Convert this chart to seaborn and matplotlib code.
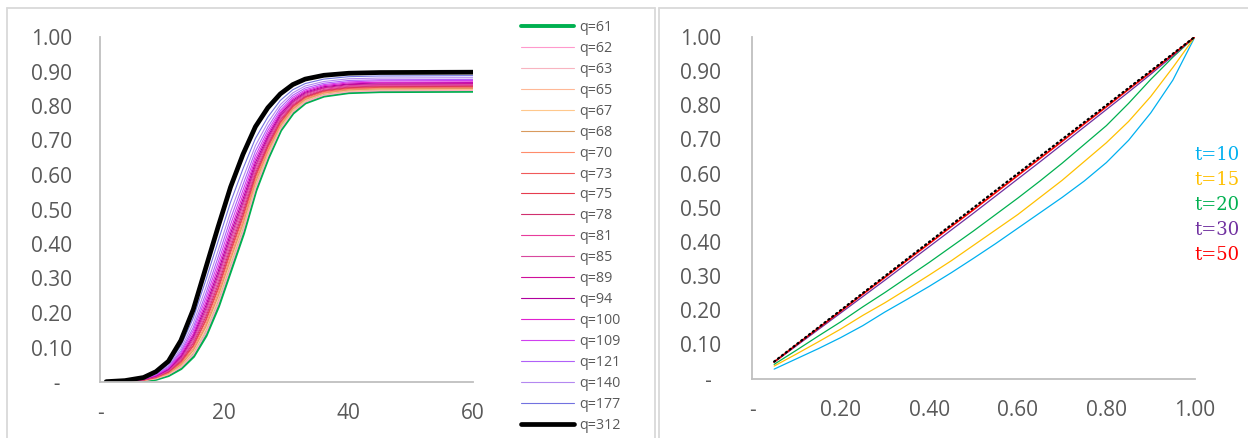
import seaborn as sns
import matplotlib.pyplot as plt
from matplotlib.lines import Line2D

# left chart: cumulative curves for several q
t_vals = [1, 4, 7, 9, 11, 13, 15, 17, 19, 21, 23, 25, 27, 29, 31, 33, 36, 40, 45, 60]

q61 = [.000, .001, .004, .009, .020, .040, .075, .135, .220, .325, .430, .555, .650, .730, .780, .810, .830, .840, .843, .844]
q62 = [.000, .001, .004, .009, .021, .042, .078, .139, .225, .330, .435, .559, .653, .732, .782, .811, .831, .841, .844, .845]
q63 = [.000, .001, .004, .010, .022, .043, .080, .143, .229, .334, .439, .562, .656, .734, .783, .813, .832, .842, .845, .846]
q65 = [.000, .001, .005, .011, .023, .046, .085, .150, .238, .343, .448, .569, .661, .738, .786, .815, .835, .844, .847, .848]
q67 = [.000, .001, .005, .011, .024, .049, .090, .157, .246, .352, .456, .576, .666, .742, .789, .818, .837, .846, .849, .850]
q68 = [.000, .001, .005, .012, .025, .050, .092, .160, .249, .356, .459, .579, .669, .743, .791, .819, .838, .847, .850, .851]
q70 = [.000, .002, .005, .012, .026, .053, .097, .166, .257, .363, .467, .585, .673, .747, .793, .821, .839, .849, .852, .853]
q73 = [.000, .002, .006, .013, .028, .056, .103, .175, .267, .374, .477, .593, .680, .751, .797, .824, .842, .851, .854, .855]
q75 = [.000, .002, .006, .014, .029, .059, .106, .180, .273, .381, .483, .598, .684, .754, .799, .826, .844, .853, .856, .857]
q78 = [.000, .002, .006, .015, .031, .062, .112, .188, .282, .390, .492, .605, .689, .759, .802, .828, .846, .855, .858, .859]
q81 = [.000, .002, .007, .015, .032, .065, .116, .195, .291, .399, .501, .612, .695, .762, .805, .831, .848, .857, .860, .861]
q85 = [.000, .002, .007, .016, .034, .068, .122, .203, .301, .409, .511, .620, .701, .767, .809, .834, .851, .859, .862, .863]
q89 = [.000, .002, .008, .017, .036, .071, .128, .211, .310, .419, .520, .627, .707, .771, .812, .837, .853, .862, .864, .865]
q94 = [.000, .002, .008, .018, .037, .075, .134, .220, .320, .430, .530, .636, .713, .776, .816, .840, .856, .864, .867, .868]
q100 = [.000, .003, .008, .019, .039, .079, .140, .230, .332, .441, .542, .645, .720, .781, .820, .843, .859, .867, .869, .870]
q109 = [.001, .003, .009, .021, .042, .084, .149, .242, .346, .456, .556, .656, .729, .787, .825, .847, .862, .870, .873, .874]
q121 = [.001, .003, .010, .022, .045, .089, .158, .255, .362, .473, .572, .669, .739, .795, .831, .852, .866, .874, .876, .877]
q140 = [.001, .003, .010, .024, .048, .096, .170, .272, .381, .493, .591, .685, .752, .804, .838, .858, .871, .879, .881, .882]
q177 = [.001, .003, .011, .026, .053, .105, .185, .294, .408, .521, .618, .706, .768, .816, .847, .865, .878, .885, .887, .888]
q312 = [.001, .004, .013, .030, .060, .120, .210, .330, .450, .565, .660, .740, .795, .835, .862, .878, .889, .895, .897, .898]

q_labels = ["q=61", "q=62", "q=63", "q=65", "q=67", "q=68", "q=70", "q=73", "q=75", "q=78",
            "q=81", "q=85", "q=89", "q=94", "q=100", "q=109", "q=121", "q=140", "q=177", "q=312"]
q_series = [q61, q62, q63, q65, q67, q68, q70, q73, q75, q78,
            q81, q85, q89, q94, q100, q109, q121, q140, q177, q312]
q_colors = ["#00B050", "#FF99CC", "#F8B4C0", "#FFB896", "#FFC88C", "#D99A5E", "#FF8C6B", "#F05A5A",
            "#E63C4E", "#D0306E", "#E83C9C", "#D8489E", "#D0109A", "#B0009E", "#E020D0", "#D040F0",
            "#B060F8", "#B488F0", "#7272E0", "#000000"]

# right chart: share curves for several t
x_share = [.05, .10, .15, .20, .25, .30, .35, .40, .45, .50, .55, .60, .65, .70, .75, .80, .85, .90, .95, 1.00]
diag = [.05, .10, .15, .20, .25, .30, .35, .40, .45, .50, .55, .60, .65, .70, .75, .80, .85, .90, .95, 1.00]
t10 = [.028, .058, .088, .120, .155, .195, .232, .270, .310, .352, .395, .440, .485, .530, .578, .632, .697, .777, .873, 1.0]
t15 = [.037, .072, .108, .145, .185, .222, .262, .303, .345, .390, .435, .480, .530, .580, .635, .690, .752, .825, .910, 1.0]
t20 = [.042, .083, .125, .166, .210, .252, .296, .340, .386, .432, .480, .528, .578, .630, .685, .740, .805, .875, .940, 1.0]
t30 = [.048, .096, .144, .192, .240, .288, .337, .386, .435, .484, .534, .584, .634, .685, .736, .787, .838, .890, .944, 1.0]
t50 = [.049, .099, .148, .197, .247, .296, .346, .395, .445, .494, .544, .594, .644, .694, .745, .795, .846, .896, .948, 1.0]
t_labels = ["t=10", "t=15", "t=20", "t=30", "t=50"]
t_series = [t10, t15, t20, t30, t50]
t_colors = ["#00B0F0", "#FFC000", "#00B050", "#7030A0", "#FF0000"]

sns.set_style("white")
plt.rcParams['font.family'] = ['Open Sans', 'DejaVu Sans']

W, H = 1248, 438
fig = plt.figure(figsize=(W / 100, H / 100), dpi=100)

# panel borders
border = "#D9D9D9"
for xs, ys in [([7, 7], [438, 7.5]), ([7, 655], [7.5, 7.5]), ([655, 655], [7.5, 438]),
               ([659, 659], [438, 7.5]), ([659, 1248], [7.5, 7.5])]:
    fig.add_artist(Line2D([x / W for x in xs], [1 - y / H for y in ys],
                          transform=fig.transFigure, color=border, lw=1.3))

ax1 = fig.add_axes([100 / W, 1 - 382 / H, 373 / W, 345 / H])
ax2 = fig.add_axes([752 / W, 1 - 378.7 / H, 443 / W, 342 / H])

for lab, vals, col in zip(q_labels, q_series, q_colors):
    lw = {"q=61": 2.8, "q=312": 3.4}.get(lab, 0.8)
    sns.lineplot(x=t_vals, y=vals, color=col, lw=lw, label=lab, ax=ax1)

for lab, vals, col in zip(t_labels, t_series, t_colors):
    sns.lineplot(x=x_share, y=vals, color=col, lw=0.9 if lab != "t=50" else 1.2, ax=ax2)
sns.lineplot(x=x_share, y=diag, color="black", lw=1.6, ls=(0, (0.6, 1.6)),
             dash_capstyle="round", ax=ax2)

grey = "#595959"
axis_col = "#BFBFBF"
for ax in (ax1, ax2):
    if ax.get_legend() is not None:
        ax.get_legend().remove()
    ax.set_ylim(0, 1)
    ax.set_yticks([0, .1, .2, .3, .4, .5, .6, .7, .8, .9, 1.0])
    for s in ("top", "right"):
        ax.spines[s].set_visible(False)
    for s in ("left", "bottom"):
        ax.spines[s].set_color(axis_col)
        ax.spines[s].set_linewidth(1.3)
    ax.tick_params(length=0, labelsize=15, labelcolor=grey)
    ax.set_xlabel("")
    ax.set_ylabel("")

ax1.set_xlim(0, 60)
ax1.set_xticks([0, 20, 40, 60])
ax1.set_xticklabels(["-", "20", "40", "60"])
ax1.set_yticklabels(["  -", "0.10", "0.20", "0.30", "0.40", "0.50", "0.60", "0.70", "0.80", "0.90", "1.00"],
                    ha="center")
ax1.tick_params(axis="y", pad=35)
ax1.tick_params(axis="x", pad=15)

ax2.set_xlim(0, 1)
ax2.set_xticks([0, .2, .4, .6, .8, 1.0])
ax2.set_xticklabels(["-", "0.20", "0.40", "0.60", "0.80", "1.00"])
ax2.set_yticklabels(["   -", "0.10", "0.20", "0.30", "0.40", "0.50", "0.60", "0.70", "0.80", "0.90", "1.00"],
                    ha="center")
ax2.tick_params(axis="y", pad=37)
ax2.tick_params(axis="x", pad=15)

# legend of the left chart
leg = fig.legend(handles=ax1.get_lines(), labels=q_labels, loc="upper left",
                 bbox_to_anchor=(521 / W, 1 - 20 / H), frameon=False, fontsize=10.3,
                 handlelength=3.7, handletextpad=0.35, labelspacing=0.415,
                 borderpad=0, borderaxespad=0)
for txt in leg.get_texts():
    txt.set_color(grey)

# labels of the right chart
for i, (lab, col) in enumerate(zip(t_labels, t_colors)):
    fig.text(1194 / W, 1 - (155 + 25 * i) / H, lab, color=col, fontsize=13,
             family="DejaVu Serif", va="center", ha="left")

fig.savefig("out.png", dpi=100)
